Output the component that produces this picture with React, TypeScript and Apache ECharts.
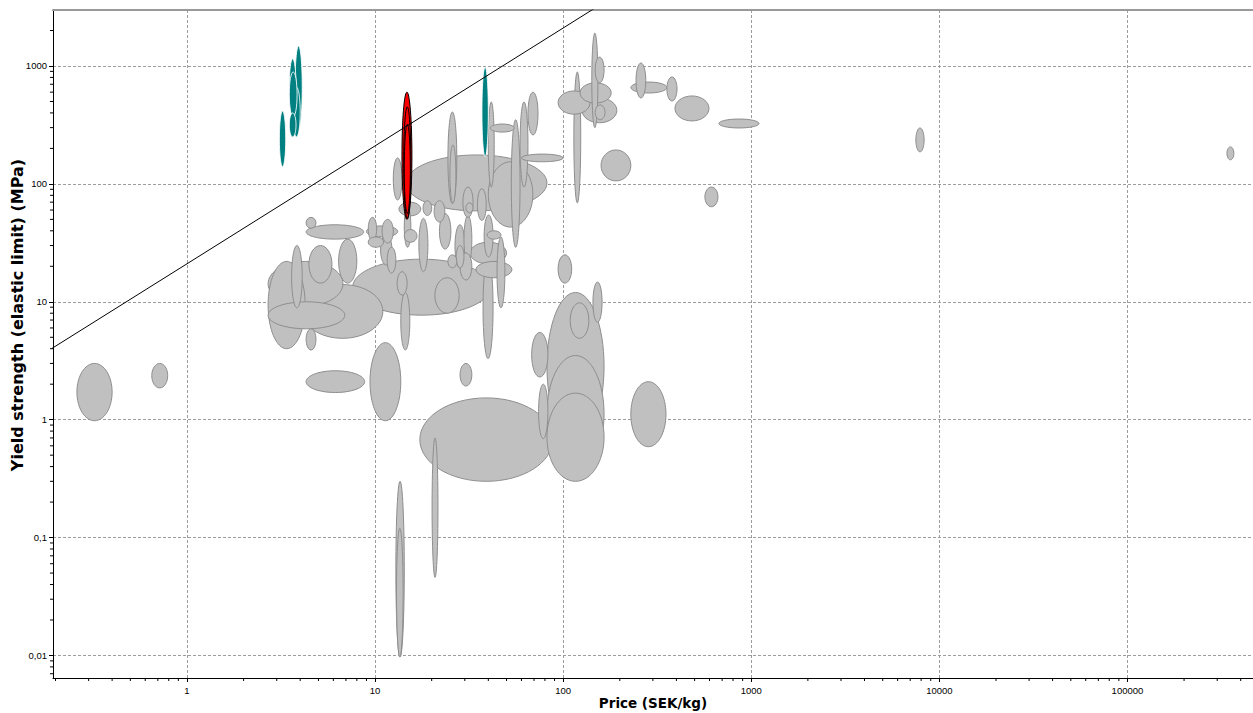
import { useEffect, useRef } from "react";
import * as echarts from "echarts";

// Each material family: [priceLow, priceHigh, strengthLow, strengthHigh]
// price in SEK/kg, yield strength in MPa
const greyRanges: number[][] = [
  [14.6, 82, 59, 176],
  [12.5, 13.9, 73, 166],
  [24.4, 27.2, 68, 407],
  [25, 26.9, 69, 214],
  [40, 43, 94, 495],
  [41, 55, 275, 322],
  [40, 69, 43, 154],
  [53, 59, 29, 350],
  [59, 65, 94, 495],
  [65, 73.5, 260, 600],
  [60, 100, 154, 179],
  [13.4, 17.5, 53.5, 70],
  [18, 20, 54, 72],
  [20.6, 23.5, 47.5, 72],
  [22, 25.3, 28, 56],
  [30.4, 33.2, 57, 69],
  [29.3, 33.2, 52, 94],
  [35, 39, 49, 91],
  [14.3, 16.7, 32, 41],
  [14.3, 15.5, 29, 64],
  [17.1, 19.1, 18, 51],
  [26.6, 30, 19.4, 45],
  [29.7, 32.7, 21, 54],
  [38, 42.4, 24, 54.5],
  [39.4, 46.7, 34, 40],
  [44.5, 49, 8.9, 35.5],
  [32, 50, 21, 32],
  [34.4, 53.4, 16, 22],
  [37.5, 42.4, 3.3, 24],
  [27, 29.7, 19.4, 30],
  [24.4, 27.2, 19.4, 25],
  [28.3, 32.7, 15.3, 26],
  [7.6, 41, 7.7, 23],
  [20.8, 28, 8, 16],
  [13.1, 14.8, 11.4, 18],
  [13.7, 15.3, 3.9, 12],
  [11.6, 12.9, 17.5, 29],
  [10.7, 12.3, 20.5, 37],
  [10.9, 12.5, 31.5, 50],
  [9.2, 10.2, 33, 52],
  [9, 13.2, 35.5, 44],
  [9.2, 11.1, 29, 35.5],
  [4.3, 8.7, 34, 45],
  [4.3, 4.85, 42, 52],
  [6.4, 8, 14.4, 34],
  [4.45, 5.9, 14.4, 30],
  [3.6, 4.1, 8.9, 30],
  [2.7, 4.25, 4, 22],
  [2.7, 6.9, 5.9, 10],
  [4.1, 11, 4.9, 14],
  [2.7, 6.75, 9.2, 22],
  [4.3, 4.85, 3.9, 5.9],
  [0.26, 0.4, 0.98, 3.0],
  [0.65, 0.79, 1.86, 3.0],
  [4.3, 8.8, 1.7, 2.6],
  [9.4, 13.7, 0.98, 4.5],
  [28.3, 32.7, 1.93, 3.0],
  [17.3, 88, 0.3, 1.53],
  [20.1, 21.6, 0.046, 0.7],
  [12.9, 14.3, 0.0097, 0.3],
  [13.0, 14.1, 0.0097, 0.12],
  [82, 165, 0.67, 12],
  [82, 165, 0.36, 3.5],
  [82, 165, 0.3, 1.68],
  [109, 137, 4.9, 9.8],
  [144, 161, 6.7, 14.7],
  [68, 83, 2.3, 5.5],
  [74, 83, 0.69, 2.0],
  [229, 352, 0.59, 2.1],
  [94, 111, 14.4, 25],
  [114, 124, 69, 890],
  [94, 139, 390, 614],
  [142, 153, 300, 1900],
  [148, 165, 720, 1190],
  [123, 180, 485, 720],
  [126, 193, 330, 535],
  [148, 167, 350, 467],
  [159, 229, 106, 194],
  [567, 665, 64, 94],
  [244, 275, 535, 1060],
  [229, 356, 590, 731],
  [356, 403, 505, 807],
  [393, 596, 342, 557],
  [673, 1100, 298, 355],
  [7500, 8300, 187, 298],
  [338000, 368000, 160, 206],
];

const tealRanges: number[][] = [
  [3.1, 3.35, 140, 415],
  [3.75, 4.1, 290, 1480],
  [3.5, 3.8, 400, 1150],
  [3.5, 3.85, 370, 890],
  [3.65, 4.0, 250, 660],
  [3.5, 3.8, 250, 400],
  [37, 40, 170, 980],
];

const redRanges: number[][] = [
  [13.9, 15.7, 50, 600],
  [14.2, 15.5, 51, 450],
  [14.3, 15.4, 56, 320],
];

// Axis extents
const priceExtent = [0.194, 465000];
const strengthExtent = [0.00644, 2985];

// Guide line: strength = guideRatio * price
const guideRatio = 21;
const guidePrices = [0.1, 1000];

// Minor tick multipliers within each decade
const minorSteps = [2, 3, 4, 5, 6, 7, 8, 9];

const logArea = (r: number[]) =>
  Math.log10(r[1] / r[0]) * Math.log10(r[3] / r[2]);

const byAreaDesc = (rows: number[][]) =>
  rows.slice().sort((a, b) => logArea(b) - logArea(a));

const minorTicks = (lo: number, hi: number) => {
  const out: number[] = [];
  for (let e = Math.floor(Math.log10(lo)); e <= Math.ceil(Math.log10(hi)); e++) {
    for (const k of minorSteps) {
      const v = k * Math.pow(10, e);
      if (v > lo && v < hi) out.push(v);
    }
  }
  return out;
};

const decadeLabel = (v: number) => {
  const e = Math.round(Math.log10(v));
  const s = e >= 0 ? String(Math.pow(10, e)) : Math.pow(10, e).toFixed(-e);
  return s.replace(".", ",");
};

const ellipseSeries = (
  rows: number[][],
  fill: string,
  stroke: string,
  z: number
) => ({
  type: "custom",
  coordinateSystem: "cartesian2d",
  xAxisIndex: 0,
  yAxisIndex: 0,
  data: byAreaDesc(rows),
  encode: { x: [0, 1], y: [2, 3] },
  clip: true,
  silent: true,
  z,
  renderItem: (_p: any, api: any) => {
    const a = api.coord([api.value(0), api.value(2)]);
    const b = api.coord([api.value(1), api.value(3)]);
    return {
      type: "ellipse",
      shape: {
        cx: (a[0] + b[0]) / 2,
        cy: (a[1] + b[1]) / 2,
        rx: Math.abs(b[0] - a[0]) / 2,
        ry: Math.abs(b[1] - a[1]) / 2,
      },
      style: { fill, stroke, lineWidth: 1 },
    };
  },
});

const labelFont = {
  fontFamily: "Liberation Sans",
  fontSize: 9.5,
  color: "#000",
};

const titleFont = {
  fontFamily: "DejaVu Sans",
  fontWeight: "bold",
  color: "#000",
};

export default function App() {
  const ref = useRef<HTMLDivElement>(null);

  useEffect(() => {
    if (!ref.current) return;
    const chart = echarts.init(ref.current, undefined, { renderer: "svg" });

    const splitLine = {
      show: true,
      lineStyle: { color: "#9c9c9c", type: [3, 2], width: 1 },
    };

    chart.setOption({
      animation: false,
      backgroundColor: "#fff",
      grid: {
        left: 53,
        right: 0,
        top: 10,
        bottom: 35,
        containLabel: false,
        outerBoundsMode: "none",
      },
      xAxis: [
        {
          type: "log",
          min: priceExtent[0],
          max: priceExtent[1],
          name: "Price (SEK/kg)",
          nameLocation: "middle",
          nameGap: 18,
          nameMoveOverlap: false,
          nameTextStyle: { ...titleFont, fontSize: 13.5 },
          axisLine: { show: true, lineStyle: { color: "#000", width: 1 } },
          axisTick: { show: true, inside: false, length: 4, lineStyle: { color: "#000" } },
          axisLabel: {
            ...labelFont,
            margin: 7,
            showMinLabel: false,
            showMaxLabel: false,
            formatter: decadeLabel,
          },
          splitLine,
        },
        {
          type: "log",
          position: "top",
          min: priceExtent[0],
          max: priceExtent[1],
          axisLine: { show: true, lineStyle: { color: "#999", width: 2 } },
          axisTick: { show: false },
          axisLabel: { show: false },
          splitLine: { show: false },
        },
      ],
      yAxis: {
        type: "log",
        min: strengthExtent[0],
        max: strengthExtent[1],
        name: "Yield strength (elastic limit) (MPa)",
        nameLocation: "middle",
        nameGap: 28,
        nameMoveOverlap: false,
        nameTextStyle: { ...titleFont, fontSize: 16, padding: [0, 0, 0, 58] },
        axisLine: { show: true, lineStyle: { color: "#000", width: 1 } },
        axisTick: { show: true, inside: false, length: 4, lineStyle: { color: "#000" } },
        axisLabel: {
          ...labelFont,
          margin: 6,
          showMinLabel: false,
          showMaxLabel: false,
          formatter: decadeLabel,
        },
        splitLine,
      },
      series: [
        ellipseSeries(greyRanges, "#c0c0c0", "#8e8e8e", 2),
        ellipseSeries(tealRanges, "#008080", "rgba(255,255,255,0.85)", 3),
        ellipseSeries(redRanges, "#ff0000", "#000000", 4),
        {
          type: "line",
          data: guidePrices.map((p) => [p, p * guideRatio]),
          symbol: "none",
          clip: true,
          silent: true,
          z: 5,
          lineStyle: { color: "#000", width: 1 },
        },
        {
          type: "custom",
          data: minorTicks(priceExtent[0], priceExtent[1]).map((v) => [v, strengthExtent[0]]),
          encode: { x: 0, y: 1 },
          clip: false,
          silent: true,
          z: 6,
          renderItem: (_p: any, api: any) => {
            const c = api.coord([api.value(0), api.value(1)]);
            return {
              type: "line",
              shape: { x1: c[0], y1: c[1], x2: c[0], y2: c[1] + 3 },
              style: { stroke: "#000", lineWidth: 1 },
            };
          },
        },
        {
          type: "custom",
          data: minorTicks(strengthExtent[0], strengthExtent[1]).map((v) => [priceExtent[0], v]),
          encode: { x: 0, y: 1 },
          clip: false,
          silent: true,
          z: 6,
          renderItem: (_p: any, api: any) => {
            const c = api.coord([api.value(0), api.value(1)]);
            return {
              type: "line",
              shape: { x1: c[0] - 3, y1: c[1], x2: c[0], y2: c[1] },
              style: { stroke: "#000", lineWidth: 1 },
            };
          },
        },
      ],
    });

    return () => chart.dispose();
  }, []);

  return (
    <div
      ref={ref}
      style={{ position: "fixed", left: 0, top: 0, width: 1253, height: 713 }}
    />
  );
}
